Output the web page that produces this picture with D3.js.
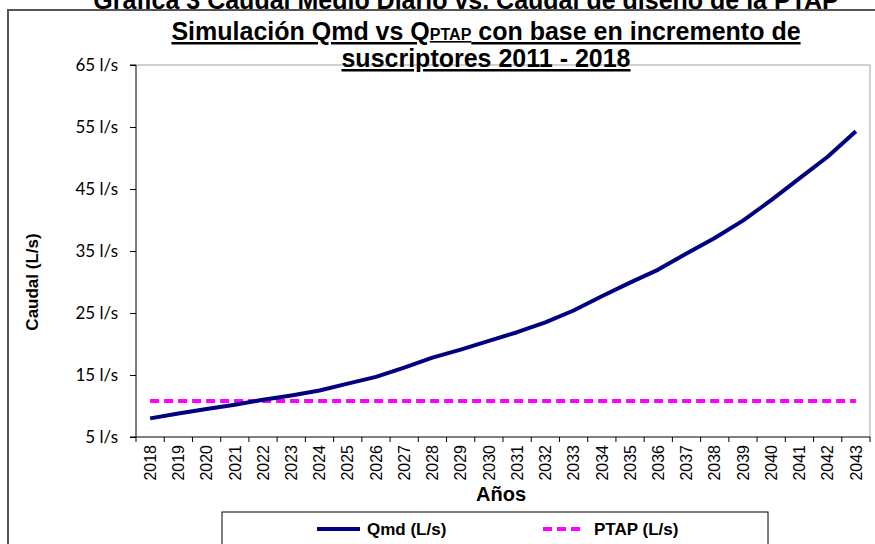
<!DOCTYPE html>
<html>
<head>
    <script src="https://d3js.org/d3.v7.min.js"></script>
    <style>
        body {margin: 0; background: #fff;}
        svg {display: block;}
        .ylab text {font-family: Lato, "Open Sans", sans-serif; font-size: 17px; fill: #000;}
        .xlab text {font-family: "Liberation Sans", Arial, sans-serif; font-size: 16px; fill: #000;}
        .bold {font-family: "Liberation Sans", Arial, sans-serif; font-weight: bold; fill: #000;}
    </style>
</head>
<body>
    <svg width="875" height="544"></svg>
    <script>
        // years on the category axis
        let years = d3.range(2018, 2044).map(String);

        // Qmd (L/s)
        let qmd = [8.0, 8.8, 9.5, 10.2, 11.0, 11.7, 12.5, 13.6, 14.7, 16.2,
                   17.8, 19.1, 20.5, 21.9, 23.5, 25.4, 27.7, 29.9, 32.0, 34.6,
                   37.1, 39.9, 43.2, 46.7, 50.2, 54.3];

        // PTAP design flow (L/s), constant
        let ptap = years.map(() => 10.8);

        let yTicks = [5, 15, 25, 35, 45, 55, 65];

        let svg = d3.select("svg");
        let plot = {left: 136, right: 870, top: 65, bottom: 437};

        let x = d3.scaleBand().domain(years).range([plot.left, plot.right]).padding(0);
        let y = d3.scaleLinear().domain([5, 65]).range([plot.bottom, plot.top]);

        // outer chart frame (runs off the right and bottom edges)
        svg.append("rect")
            .attr("x", 8).attr("y", 10)
            .attr("width", 900).attr("height", 600)
            .attr("fill", "none").attr("stroke", "#555").attr("stroke-width", 2);

        // top caption, clipped by the image edge
        svg.append("text")
            .attr("class", "bold")
            .attr("x", 466).attr("y", 9)
            .attr("text-anchor", "middle")
            .attr("font-size", 25)
            .text("Grafica 3 Caudal Medio Diario vs. Caudal de diseño de la PTAP");

        // plot area border (light gray top & right)
        svg.append("path")
            .attr("d", `M${plot.left},${plot.top}H${plot.right}V${plot.bottom}`)
            .attr("fill", "none").attr("stroke", "#a0a0a0").attr("stroke-width", 1);

        // chart title
        let t1 = svg.append("text")
            .attr("class", "bold")
            .attr("x", 486).attr("y", 40)
            .attr("text-anchor", "middle")
            .attr("font-size", 25)
            .attr("text-decoration", "underline");
        t1.append("tspan").text("Simulación Qmd vs Q");
        t1.append("tspan").attr("font-size", 16).text("PTAP");
        t1.append("tspan").text(" con base en incremento de");

        svg.append("text")
            .attr("class", "bold")
            .attr("x", 486).attr("y", 67)
            .attr("text-anchor", "middle")
            .attr("font-size", 25)
            .attr("text-decoration", "underline")
            .text("suscriptores 2011 - 2018");

        // y axis
        let yAxis = svg.append("g")
            .attr("class", "ylab")
            .attr("transform", `translate(${plot.left},0)`)
            .call(d3.axisLeft(y).tickValues(yTicks).tickSize(6).tickPadding(12)
                .tickFormat(d => d + " l/s"));
        yAxis.select(".domain").attr("stroke", "#000").attr("d", `M-6,${plot.top}H0V${plot.bottom}H-6`);
        yAxis.selectAll(".tick line").attr("stroke", "#000");

        // x axis: labels at category centres, ticks at boundaries
        let xAxis = svg.append("g")
            .attr("class", "xlab")
            .attr("transform", `translate(0,${plot.bottom})`)
            .call(d3.axisBottom(x).tickSize(0));
        xAxis.select(".domain").attr("stroke", "#000").attr("d", `M${plot.left},0H${plot.right}`);
        xAxis.selectAll(".tick text")
            .attr("transform", "rotate(-90)")
            .attr("text-anchor", "end")
            .attr("x", -8).attr("y", 0)
            .attr("dy", "0.36em");
        xAxis.selectAll(".boundary")
            .data(years.concat(["end"]))
            .enter().append("line")
            .attr("class", "boundary")
            .attr("x1", (d, i) => plot.left + i * x.bandwidth())
            .attr("x2", (d, i) => plot.left + i * x.bandwidth())
            .attr("y1", 0).attr("y2", 5)
            .attr("stroke", "#000");

        // axis titles
        svg.append("text")
            .attr("class", "bold")
            .attr("font-family", "Lato, sans-serif")
            .attr("font-size", 17)
            .attr("text-anchor", "middle")
            .attr("transform", "translate(38,282) rotate(-90)")
            .text("Caudal (L/s)");

        svg.append("text")
            .attr("class", "bold")
            .attr("font-size", 20)
            .attr("text-anchor", "middle")
            .attr("x", 501).attr("y", 501)
            .text("Años");

        // series lines
        let line = d3.line()
            .x((d, i) => x(years[i]) + x.bandwidth() / 2)
            .y(d => y(d));

        svg.append("path")
            .datum(ptap)
            .attr("d", line)
            .attr("fill", "none")
            .attr("stroke", "#ff00ff")
            .attr("stroke-width", 4)
            .attr("stroke-dasharray", "9,5");

        svg.append("path")
            .datum(qmd)
            .attr("d", line)
            .attr("fill", "none")
            .attr("stroke", "#000080")
            .attr("stroke-width", 4)
            .attr("stroke-linejoin", "round");

        // legend
        let legend = svg.append("g");
        legend.append("rect")
            .attr("x", 222).attr("y", 512)
            .attr("width", 546).attr("height", 60)
            .attr("fill", "#fff").attr("stroke", "#000").attr("stroke-width", 1);
        legend.append("line")
            .attr("x1", 317).attr("x2", 360).attr("y1", 529).attr("y2", 529)
            .attr("stroke", "#000080").attr("stroke-width", 4);
        legend.append("text")
            .attr("class", "bold").attr("font-size", 17)
            .attr("x", 367).attr("y", 535)
            .text("Qmd (L/s)");
        legend.append("line")
            .attr("x1", 543).attr("x2", 585).attr("y1", 529).attr("y2", 529)
            .attr("stroke", "#ff00ff").attr("stroke-width", 4)
            .attr("stroke-dasharray", "9,5");
        legend.append("text")
            .attr("class", "bold").attr("font-size", 17)
            .attr("x", 594).attr("y", 535)
            .text("PTAP (L/s)");
    </script>
</body>
</html>
